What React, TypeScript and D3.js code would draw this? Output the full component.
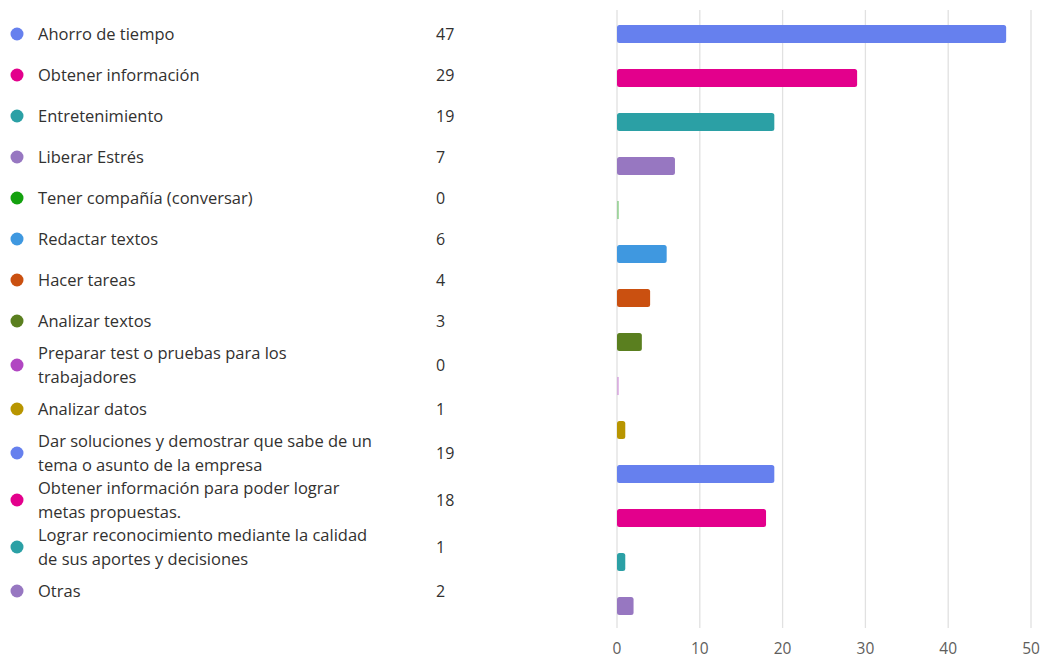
import React from "react";
import * as d3 from "d3";

const categories: string[] = [
  "Ahorro de tiempo",
  "Obtener información",
  "Entretenimiento",
  "Liberar Estrés",
  "Tener compañía (conversar)",
  "Redactar textos",
  "Hacer tareas",
  "Analizar textos",
  "Preparar test o pruebas para los\ntrabajadores",
  "Analizar datos",
  "Dar soluciones y demostrar que sabe de un\ntema o asunto de la empresa",
  "Obtener información para poder lograr\nmetas propuestas.",
  "Lograr reconocimiento mediante la calidad\nde sus aportes y decisiones",
  "Otras",
];

const values: number[] = [47, 29, 19, 7, 0, 6, 4, 3, 0, 1, 19, 18, 1, 2];

const colors: string[] = [
  "#6680ee",
  "#e3008c",
  "#2ba0a5",
  "#9777c1",
  "#13a10e",
  "#3f98e0",
  "#ca5010",
  "#5a7f1f",
  "#b146c2",
  "#b89500",
  "#6680ee",
  "#e3008c",
  "#2ba0a5",
  "#9777c1",
];

const xTicks: number[] = [0, 10, 20, 30, 40, 50];

const W = 1042;
const H = 660;
const FONT = "'Open Sans', 'Noto Sans', sans-serif";
const TEXT = "#323130";

export default function App() {
  const x = d3.scaleLinear().domain([0, 50]).range([617, 1031]);
  const y = d3
    .scaleBand<number>()
    .domain(d3.range(categories.length))
    .range([12, 628])
    .paddingInner(0.59)
    .paddingOuter(0.295);

  // legend layout
  const rowH = (lines: number) => (lines > 1 ? 47 : 41);
  const lineH = 24;
  const rows: { cy: number; lines: string[] }[] = [];
  let cy = 34;
  categories.forEach((c, i) => {
    const lines = c.split("\n");
    if (i > 0) {
      const prev = categories[i - 1].split("\n").length;
      cy += (rowH(prev) + rowH(lines.length)) / 2;
    }
    rows.push({ cy, lines });
  });

  return (
    <svg width={W} height={H} style={{ position: "absolute", left: 0, top: 0, background: "#fff" }} fontFamily={FONT}>
      {/* gridlines */}
      {xTicks.map((t) => (
        <line key={"g" + t} x1={x(t)} x2={x(t)} y1={10} y2={628} stroke="#e1e1e1" strokeWidth={1.3} />
      ))}
      {xTicks.map((t) => (
        <text key={"t" + t} x={x(t)} y={649} dy="0.35em" textAnchor="middle" fontSize={15.5} fill="#605e5c">
          {t}
        </text>
      ))}
      {/* bars */}
      {values.map((v, i) => {
        const bw = v === 0 ? 2 : x(v) - x(0);
        return (
          <rect
            key={"b" + i}
            x={x(0)}
            y={y(i)!}
            width={bw}
            height={y.bandwidth()}
            rx={v === 0 ? 0 : 2.5}
            fill={colors[i]}
            opacity={v === 0 ? 0.35 : 1}
          />
        );
      })}
      {/* legend */}
      {rows.map((r, i) => {
        const n = r.lines.length;
        const top = r.cy - ((n - 1) * lineH) / 2;
        return (
          <g key={"l" + i}>
            <circle cx={17} cy={r.cy} r={6.5} fill={colors[i]} />
            {r.lines.map((ln, k) => (
              <text key={k} x={38} y={top + k * lineH} dy="0.35em" fontSize={16.5} fill={TEXT}>
                {ln}
              </text>
            ))}
            <text x={436} y={r.cy} dy="0.35em" fontSize={16} fill={TEXT}>
              {values[i]}
            </text>
          </g>
        );
      })}
    </svg>
  );
}
